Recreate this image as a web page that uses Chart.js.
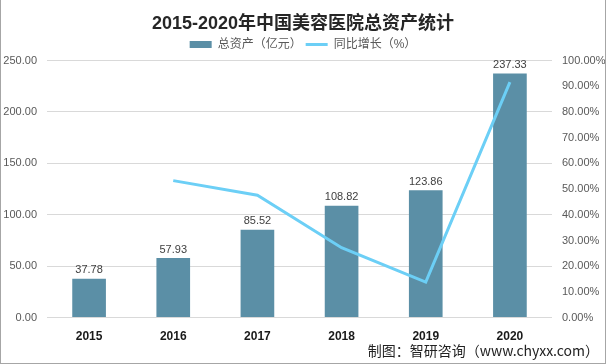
<!DOCTYPE html>
<html>
<head>
<meta charset="utf-8">
<script src="https://cdn.jsdelivr.net/npm/chart.js@4"></script>
<style>
  html, body { margin: 0; padding: 0; background: #fff; }
  #wrap { position: relative; width: 606px; height: 364px; box-sizing: border-box; border: 1px solid #a6a6a6; border-top: none; }
  canvas { display: block; }
  #src { position: absolute; right: 6px; bottom: 3px; font: 14px "Noto Sans CJK SC", sans-serif; color: #222; }
</style>
</head>
<body>
<div id="wrap">
  <canvas id="c" width="604" height="363"></canvas>
  <div id="src">制图：智研咨询（www.chyxx.com）</div>
</div>
<script>
// 2015-2020年中国美容医院总资产统计
const years = ['2015', '2016', '2017', '2018', '2019', '2020'];
const assets = [37.78, 57.93, 85.52, 108.82, 123.86, 237.33];   // 亿元
const growth = [null, 53.3, 47.6, 27.2, 13.8, 91.6];            // %
const leftTicks = [0, 50, 100, 150, 200, 250];
const rightMax = 100;

const FONT = '"Liberation Sans", "Noto Sans CJK SC", sans-serif';
const BAR = '#5b8fa6';
const LINE = '#6ccff6';

// 柱顶数值
const barLabels = {
  id: 'barLabels',
  afterDatasetsDraw(chart) {
    const ctx = chart.ctx;
    const meta = chart.getDatasetMeta(0);
    ctx.save();
    ctx.font = '11px ' + FONT;
    ctx.fillStyle = '#404040';
    ctx.textAlign = 'center';
    ctx.textBaseline = 'bottom';
    meta.data.forEach((el, i) => ctx.fillText(assets[i].toFixed(2), el.x, el.y - 3));
    ctx.restore();
  }
};

new Chart(document.getElementById('c'), {
  data: {
    labels: years,
    datasets: [
      { type: 'bar', label: '总资产（亿元）', data: assets, backgroundColor: BAR, yAxisID: 'y', barPercentage: 0.8, categoryPercentage: 0.5, order: 2, pointStyle: 'rect' },
      { type: 'line', label: '同比增长（%）', data: growth, borderColor: LINE, backgroundColor: LINE, borderWidth: 3, pointRadius: 0, tension: 0, yAxisID: 'y1', order: 1, pointStyle: 'line' }
    ]
  },
  options: {
    responsive: false,
    animation: false,
    layout: { padding: { top: 2, right: 0, left: 0, bottom: 15 } },
    plugins: {
      title: { display: true, text: '2015-2020年中国美容医院总资产统计', color: '#262626', font: { family: FONT, size: 18, weight: 'bold' }, padding: { top: 11, bottom: 0 } },
      legend: {
        labels: {
          usePointStyle: true, pointStyleWidth: 22, boxHeight: 7, color: '#595959', font: { family: FONT, size: 12 }, padding: 4,
          sort: (a, b) => a.datasetIndex - b.datasetIndex
        }
      },
      tooltip: { enabled: false }
    },
    scales: {
      x: {
        grid: { display: false },
        border: { display: false },
        ticks: { color: '#1a1a1a', font: { family: FONT, size: 12, weight: 'bold' }, padding: 4 }
      },
      y: {
        position: 'left', min: 0, max: 250,
        afterBuildTicks: s => { s.ticks = leftTicks.map(v => ({ value: v })); },
        afterFit: s => { s.width = 46; },
        grid: { color: '#d9d9d9', drawTicks: false },
        border: { display: false },
        ticks: { color: '#595959', font: { family: FONT, size: 11 }, padding: 10, callback: v => v.toFixed(2) }
      },
      y1: {
        position: 'right', min: 0, max: rightMax,
        afterFit: s => { s.width = 53; },
        grid: { display: false, drawTicks: false },
        border: { display: false },
        ticks: { stepSize: 10, color: '#595959', font: { family: FONT, size: 11 }, padding: 10, callback: v => v.toFixed(2) + '%' }
      }
    }
  },
  plugins: [barLabels]
});
</script>
</body>
</html>
